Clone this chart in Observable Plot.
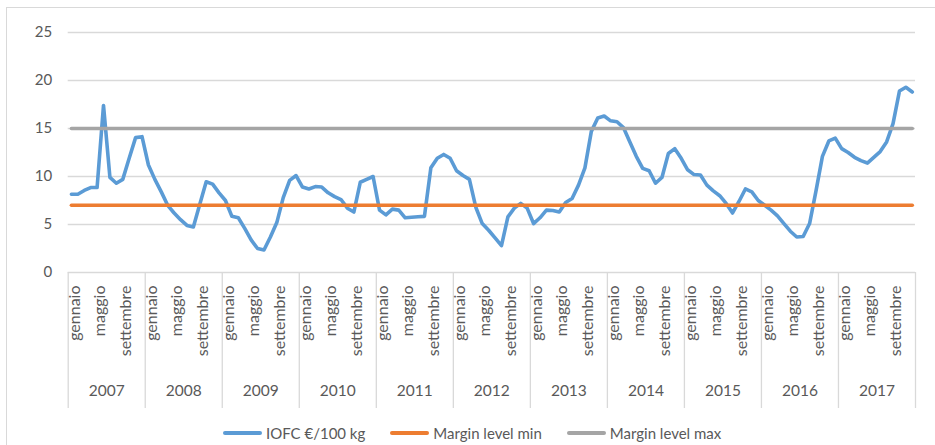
<!DOCTYPE html>
<html>
<head>
<meta charset="utf-8">
<script src="https://cdn.jsdelivr.net/npm/d3@7"></script>
<script src="https://cdn.jsdelivr.net/npm/@observablehq/plot@0.6"></script>
<style>
  body { margin: 0; background: #fff; font-family: Lato, "Open Sans", sans-serif; }
  #wrap { position: relative; width: 935px; height: 445px; overflow: hidden; }
  #frame { position: absolute; left: 6px; top: 7px; width: 1000px; height: 1000px; border: 1px solid #d9d9d9; box-sizing: border-box; pointer-events: none; }
  #chart { position: absolute; left: 0; top: 0; }
  #legend { position: absolute; left: 223px; top: 420px; height: 26px; display: flex; align-items: center; font-size: 15px; color: #595959; white-space: nowrap; }
  .sw { display: inline-block; width: 39px; height: 4px; border-radius: 2px; margin-right: 4px; }
  .lab { margin-right: 25px; }
</style>
</head>
<body>
<div id="wrap">
  <div id="frame"></div>
  <div id="chart"></div>
  <div id="legend"></div>
</div>
<script>
const years = [2007, 2008, 2009, 2010, 2011, 2012, 2013, 2014, 2015, 2016, 2017];
const monthNames = ["gennaio", "febbraio", "marzo", "aprile", "maggio", "giugno", "luglio", "agosto", "settembre", "ottobre", "novembre", "dicembre"];
const shownMonths = [0, 4, 8];
const yTicks = [0, 5, 10, 15, 20, 25];
const seriesNames = ["IOFC €/100 kg", "Margin level min", "Margin level max"];
const seriesColors = ["#5B9BD5", "#ED7D31", "#A5A5A5"];
const marginMin = 7;
const marginMax = 15;
const iofc = [
  8.15, 8.15, 8.55, 8.85, 8.85, 17.4, 9.9, 9.3, 9.7, 11.9, 14.05, 14.15,
  11.2, 9.7, 8.4, 7.0, 6.2, 5.5, 4.9, 4.75, 7.1, 9.45, 9.2, 8.3,
  7.5, 5.85, 5.7, 4.6, 3.4, 2.5, 2.35, 3.7, 5.2, 7.8, 9.6, 10.1,
  8.9, 8.7, 8.95, 8.9, 8.3, 7.9, 7.6, 6.7, 6.3, 9.4, 9.7, 10.0,
  6.5, 6.0, 6.6, 6.5, 5.7, 5.75, 5.8, 5.85, 10.9, 11.9, 12.3, 11.9,
  10.6, 10.1, 9.7, 6.8, 5.1, 4.4, 3.6, 2.8, 5.8, 6.7, 7.2, 6.7,
  5.1, 5.7, 6.5, 6.45, 6.3, 7.3, 7.7, 9.1, 10.9, 14.7, 16.1, 16.3,
  15.8, 15.7, 15.1, 13.6, 12.1, 10.85, 10.6, 9.3, 9.9, 12.4, 12.9, 11.9,
  10.7, 10.2, 10.15, 9.1, 8.5, 8.0, 7.2, 6.2, 7.4, 8.7, 8.4, 7.5,
  7.0, 6.5, 5.9, 5.1, 4.3, 3.7, 3.75, 5.1, 8.5, 12.1, 13.7, 14.0,
  12.9, 12.5, 12.0, 11.65, 11.4, 12.0, 12.6, 13.6, 15.5, 18.9, 19.3, 18.8
];

const rows = iofc.map((v, i) => ({ i, v, mn: marginMin, mx: marginMax }));
const monthRows = [];
years.forEach((y, k) => shownMonths.forEach(m => monthRows.push({ i: k * 12 + m, label: monthNames[m] })));
const yearRows = years.map((y, k) => ({ x: k * 12 + 5.5, label: String(y) }));
const seps = d3.range(years.length + 1).map(k => k * 12 - 0.5);

const font = "Lato, 'Open Sans', sans-serif";
const lineOpts = { strokeWidth: 3.6, strokeLinejoin: "round", strokeLinecap: "round" };

const chart = Plot.plot({
  width: 935,
  height: 420,
  marginLeft: 67.7,
  marginRight: 20,
  marginTop: 32,
  marginBottom: 148,
  x: { domain: [-0.5, iofc.length - 0.5], axis: null },
  y: { domain: [0, 25] },
  style: { fontFamily: font, color: "#595959", background: "transparent", overflow: "visible" },
  marks: [
    Plot.ruleY(yTicks, { stroke: "#d9d9d9", strokeWidth: 1.3 }),
    Plot.ruleX(seps, { y1: 0, y2: 0, insetBottom: -136, stroke: "#d9d9d9", strokeWidth: 1.3 }),
    Plot.axisY(yTicks, { tickSize: 0, tickPadding: 16, fontSize: 15, label: null, fill: "#595959" }),
    Plot.text(monthRows, { x: "i", frameAnchor: "bottom", text: "label", rotate: -90, textAnchor: "end", lineAnchor: "middle", dx: 3, dy: 13, fontSize: 16, fill: "#595959", letterSpacing: 2.1 }),
    Plot.text(yearRows, { x: "x", frameAnchor: "bottom", text: "label", dy: 123, fontSize: 15.5, fill: "#595959" }),
    Plot.lineY(rows, { x: "i", y: "v", stroke: seriesColors[0], ...lineOpts }),
    Plot.lineY(rows, { x: "i", y: "mn", stroke: seriesColors[1], ...lineOpts }),
    Plot.lineY(rows, { x: "i", y: "mx", stroke: seriesColors[2], ...lineOpts })
  ]
});
document.getElementById("chart").appendChild(chart);

const legend = document.getElementById("legend");
seriesNames.forEach((name, k) => {
  const sw = document.createElement("span");
  sw.className = "sw";
  sw.style.background = seriesColors[k];
  const lab = document.createElement("span");
  lab.className = "lab";
  lab.textContent = name;
  legend.appendChild(sw);
  legend.appendChild(lab);
});
</script>
</body>
</html>
